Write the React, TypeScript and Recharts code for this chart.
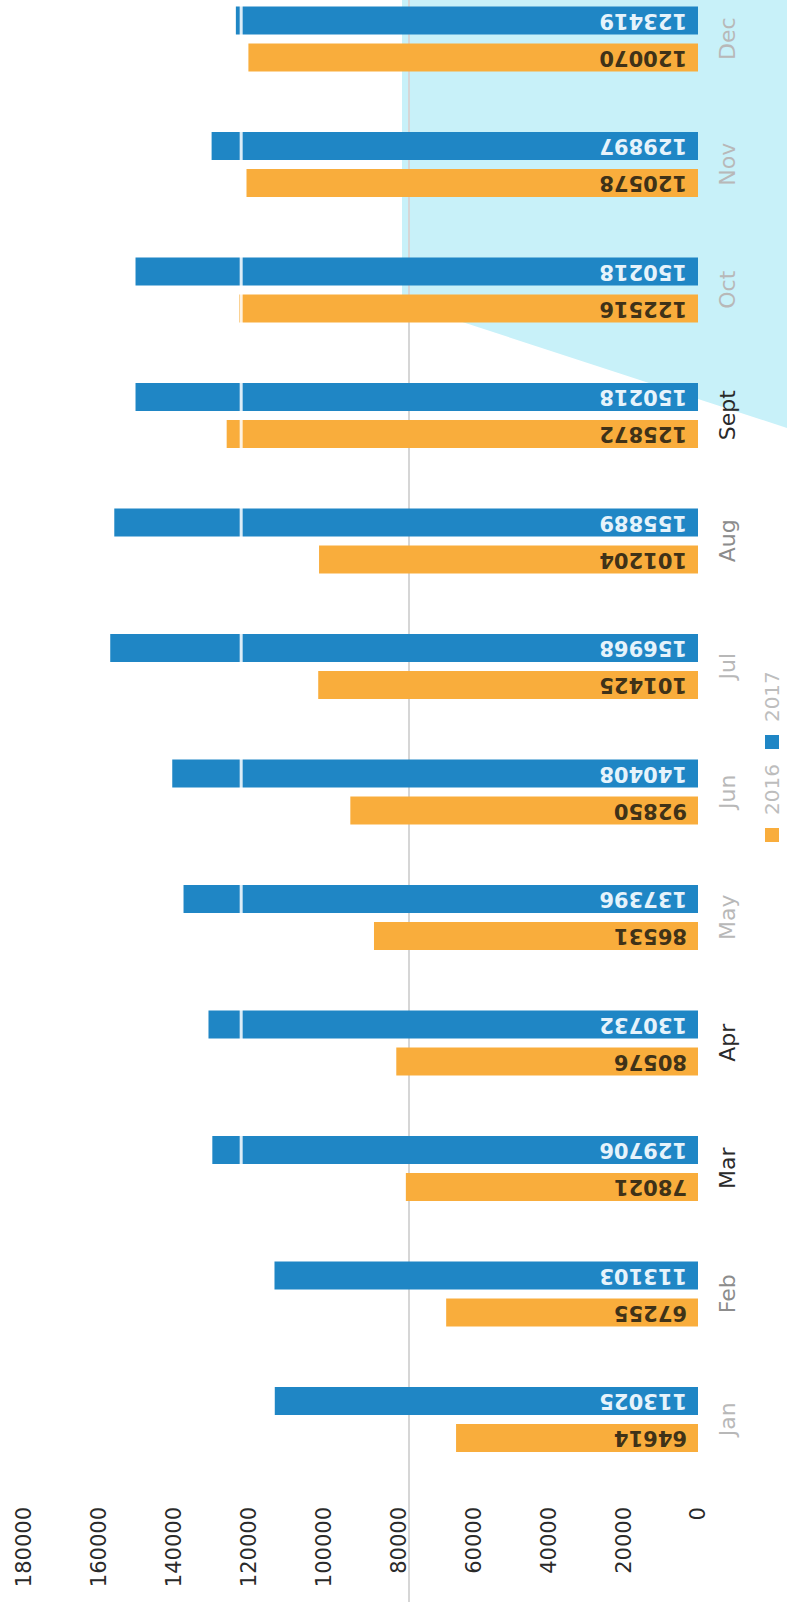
import React from 'react';
import { BarChart, Bar, XAxis, YAxis, Legend, LabelList, ReferenceLine } from 'recharts';

const months = ['Jan', 'Feb', 'Mar', 'Apr', 'May', 'Jun', 'Jul', 'Aug', 'Sept', 'Oct', 'Nov', 'Dec'];
const sales2016 = [64614, 67255, 78021, 80576, 86531, 92850, 101425, 101204, 125872, 122516, 120578, 120070];
const sales2017 = [113025, 113103, 129706, 130732, 137396, 140408, 156968, 155889, 150218, 150218, 129897, 123419];
const valueTicks = [0, 20000, 40000, 60000, 80000, 100000, 120000, 140000, 160000, 180000];

const data = months.map((m, i) => ({ month: m, y2016: sales2016[i], y2017: sales2017[i] }));

const ORANGE = '#f9ad3c';
const BLUE = '#1f86c5';
const FONT = 'DejaVu Sans';
const W = 1700;
const H = 787;

const tickColor = (m: string) => {
  if (m === 'Mar' || m === 'Apr' || m === 'Sept') return '#2a2a2a';
  if (m === 'Feb' || m === 'Aug') return '#8c8c8c';
  return '#b8b8b8';
};

const CatTick = (props: any) => {
  const { x, y, payload } = props;
  return (
    <text x={x} y={y + 37} textAnchor="middle" fill={tickColor(payload.value)} fontSize={22} fontFamily={FONT}>
      {payload.value}
    </text>
  );
};

const makeLabel = (color: string) => (props: any) => {
  const { x, y, width, height, value } = props;
  const cx = Number(x) + Number(width) / 2;
  const by = Number(y) + Number(height) - 11;
  return (
    <text
      x={cx}
      y={by}
      transform={`rotate(-90 ${cx} ${by})`}
      textAnchor="start"
      dominantBaseline="central"
      fill={color}
      fontSize={21}
      fontWeight="bold"
      fontFamily={FONT}
    >
      {value}
    </text>
  );
};

const LegendContent = (props: any) => {
  const { payload } = props;
  return (
    <div style={{ display: 'flex', alignItems: 'center', fontFamily: FONT, fontSize: 20, color: '#bdbdbd', whiteSpace: 'nowrap' }}>
      {(payload || []).map((p: any, i: number) => (
        <div key={i} style={{ display: 'flex', alignItems: 'center', marginRight: i === 0 ? 15 : 0 }}>
          <span style={{ display: 'inline-block', width: 14, height: 14, background: p.color, marginRight: 13 }} />
          <span>{p.value}</span>
        </div>
      ))}
    </div>
  );
};

export default function App() {
  return (
    <div style={{ position: 'absolute', left: 0, top: 0, width: 787, height: 1602, overflow: 'hidden', background: '#ffffff' }}>
      <div
        style={{
          position: 'absolute',
          left: 0,
          top: 0,
          width: 787,
          height: 1602,
          background: '#c8f1f9',
          clipPath: 'polygon(402px 0px, 787px 0px, 787px 428px, 450px 318px, 402px 300px)',
        }}
      />
      <div style={{ position: 'absolute', left: 408, top: 0, width: 2, height: 1602, background: '#d6d6d6' }} />
      <div
        style={{
          position: 'absolute',
          left: 0,
          top: 0,
          width: W,
          height: H,
          transformOrigin: '0 0',
          transform: 'translate(0px, 1602px) rotate(-90deg)',
        }}
      >
        <BarChart width={W} height={H} data={data} margin={{ top: 24, right: 74, left: 0, bottom: 0 }} barSize={28} barGap={9}>
          <XAxis dataKey="month" height={89} axisLine={false} tickLine={false} tickSize={0} tickMargin={0} tick={<CatTick />} interval={0} />
          <YAxis
            type="number"
            domain={[0, 180000]}
            ticks={valueTicks}
            width={120}
            axisLine={false}
            tickLine={false}
            tickSize={0}
            tickMargin={25}
            tick={{ fill: '#2a2a2a', fontSize: 21, fontFamily: FONT }}
            interval={0}
          />
          <Bar dataKey="y2016" name="2016" fill={ORANGE} isAnimationActive={false}>
            <LabelList dataKey="y2016" content={makeLabel('#3f3218')} />
          </Bar>
          <Bar dataKey="y2017" name="2017" fill={BLUE} isAnimationActive={false}>
            <LabelList dataKey="y2017" content={makeLabel('#e6f3fb')} />
          </Bar>
          <ReferenceLine y={122000} stroke="#ffffff" strokeWidth={3} strokeOpacity={0.85} />
          <Legend
            layout="horizontal"
            verticalAlign="middle"
            align="center"
            wrapperStyle={{ top: 760, left: 760, width: 'auto', height: 'auto' }}
            content={<LegendContent />}
          />
        </BarChart>
      </div>
    </div>
  );
}
